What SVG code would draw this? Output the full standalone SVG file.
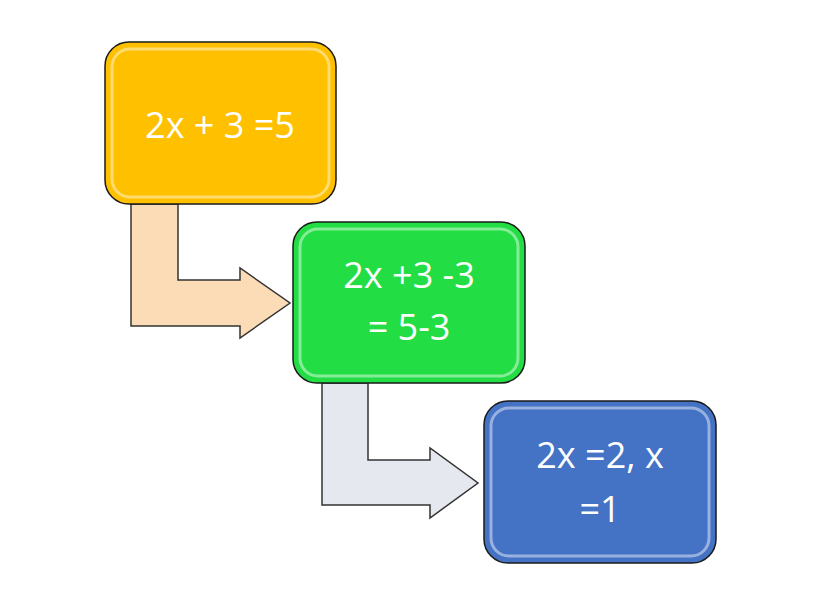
<svg xmlns="http://www.w3.org/2000/svg" width="820" height="604" viewBox="0 0 820 604">
<style>
.box{stroke:#1a1a1a;stroke-width:1.5}
.inner{fill:none;stroke:#ffffff;stroke-opacity:0.45;stroke-width:3}
.t{font-family:"Open Sans","Liberation Sans",sans-serif;font-size:36px;fill:#ffffff;text-anchor:middle}
.arr{stroke:#333;stroke-width:1.5;stroke-linejoin:miter}
</style>
<rect width="820" height="604" fill="#ffffff"/>
<g id="connectors">
<path class="arr" fill="#fbdcb6" d="M131,204 H178 V280 H240 V268 L290,303 L240,338 V326 H131 Z"/>
<path class="arr" fill="#e5e8ef" d="M322,383 H368 V460 H430 V448 L478,483 L430,518 V505 H322 Z"/>
</g>
<g id="node1">
<rect class="box" x="105" y="42" width="231" height="162" rx="24" fill="#ffc000"/>
<rect class="inner" x="112" y="49" width="217" height="148" rx="18"/>
<text class="t" x="220" y="138">2x + 3 =5</text>
</g>
<g id="node2">
<rect class="box" x="293" y="222" width="232" height="161" rx="24" fill="#22dd44"/>
<rect class="inner" x="300" y="229" width="218" height="147" rx="18"/>
<text class="t" x="409" y="288">2x +3 -3</text>
<text class="t" x="409" y="340">= 5-3</text>
</g>
<g id="node3">
<rect class="box" x="484" y="401" width="232" height="162" rx="24" fill="#4472c4"/>
<rect class="inner" x="491" y="408" width="218" height="148" rx="18"/>
<text class="t" x="600" y="468">2x =2, x</text>
<text class="t" x="600" y="522">=1</text>
</g>
</svg>
